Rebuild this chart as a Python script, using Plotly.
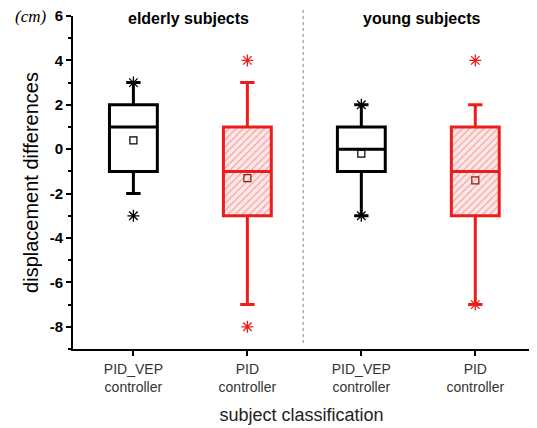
import plotly.graph_objects as go

# data
groups = ["elderly PID_VEP", "elderly PID", "young PID_VEP", "young PID"]
positions = [0, 1, 2, 3]
tick_labels = ["PID_VEP<br>controller", "PID<br>controller", "PID_VEP<br>controller", "PID<br>controller"]
y_ticks = [-8, -6, -4, -2, 0, 2, 4, 6]
y_tick_labels = ["-8", "-6", "-4", "-2", "0", "2", "4", "6"]
q1 = [-1, -3, -1, -3]
median = [1, -1, 0, -1]
q3 = [2, 1, 1, 1]
lower = [-2, -7, -3, -7]
upper = [3, 3, 2, 2]
means = [0.4, -1.3, -0.2, -1.4]
outliers = [[3, -3], [4, -8], [2, -3], [4, -7]]
colors = ["black", "#ee1c1c", "black", "#ee1c1c"]
hatched = [False, True, False, True]

fig = go.Figure()

# hatched fill for PID boxes
for i in range(4):
    if hatched[i]:
        fig.add_trace(go.Bar(
            x=[positions[i]], y=[q3[i] - q1[i]], base=[q1[i]], width=0.42,
            marker=dict(color="#fde6e6", line=dict(width=0),
                        pattern=dict(shape="/", fgcolor="#e04040", size=5, solidity=0.2)),
            showlegend=False, hoverinfo="skip"))

for i in range(4):
    fig.add_trace(go.Box(
        x=[positions[i]], q1=[q1[i]], median=[median[i]], q3=[q3[i]],
        lowerfence=[lower[i]], upperfence=[upper[i]],
        width=0.42, whiskerwidth=0.3,
        line=dict(color=colors[i], width=3),
        fillcolor="rgba(0,0,0,0)" if hatched[i] else "white",
        boxpoints=False, showlegend=False))

for i in range(4):
    fig.add_trace(go.Scatter(
        x=[positions[i]] * len(outliers[i]), y=outliers[i], mode="markers",
        marker=dict(symbol="asterisk-open", size=10, color=colors[i], line=dict(width=1.3)),
        showlegend=False))
    fig.add_trace(go.Scatter(
        x=[positions[i]], y=[means[i]], mode="markers",
        marker=dict(symbol="square-open", size=7,
                    color="black" if not hatched[i] else "#8a1a1a", line=dict(width=1.2)),
        showlegend=False))

fig.add_shape(type="line", xref="x", yref="paper", x0=1.49, x1=1.49, y0=0.018, y1=1.018,
              line=dict(color="#999999", width=1.2, dash="dot"))

fig.add_annotation(text="<b>elderly subjects</b>", x=0.48, y=5.87, xref="x", yref="y",
                   showarrow=False, font=dict(size=16, color="black", family="Liberation Sans"))
fig.add_annotation(text="<b>young subjects</b>", x=2.53, y=5.87, xref="x", yref="y",
                   showarrow=False, font=dict(size=16, color="black", family="Liberation Sans"))
fig.add_annotation(text="<i>(cm)</i>", xref="paper", yref="paper", x=-0.055, y=1.0,
                   xanchor="right", yanchor="middle", showarrow=False,
                   font=dict(size=17, color="black", family="Liberation Serif"))

# the page body has an 8px default margin, so the figure is 8px smaller and margins shifted
fig.update_layout(
    width=529, height=420,
    margin=dict(l=65, r=7, t=8, b=79, autoexpand=False),
    paper_bgcolor="white", plot_bgcolor="white",
    font=dict(family="Liberation Sans", color="black"),
    xaxis=dict(range=[-0.53, 3.48], tickvals=positions, ticktext=tick_labels, automargin=False,
               showgrid=False, zeroline=False, showline=True, linecolor="black", linewidth=2,
               ticks="outside", ticklen=5, tickwidth=2, tickcolor="black",
               ticklabelstandoff=1, ticklabeloverflow="allow",
               tickfont=dict(size=14, color="#333333"),
               title=dict(text="subject classification", font=dict(size=18, color="#222222"), standoff=14)),
    yaxis=dict(range=[-9, 6], tickvals=y_ticks, ticktext=y_tick_labels, automargin=False,
               showgrid=False, zeroline=False, showline=True, linecolor="black", linewidth=2,
               ticks="outside", ticklen=5, tickwidth=2, tickcolor="black",
               ticklabeloverflow="allow",
               tickfont=dict(size=15, color="black", weight="bold"),
               minor=dict(tickvals=[-9, -7, -5, -3, -1, 1, 3, 5], ticks="outside", ticklen=3,
                          tickwidth=1.5, tickcolor="black"),
               title=dict(text="displacement differences", font=dict(size=20, color="black"), standoff=6)),
    bargap=0,
)

fig.write_html("out.html")
